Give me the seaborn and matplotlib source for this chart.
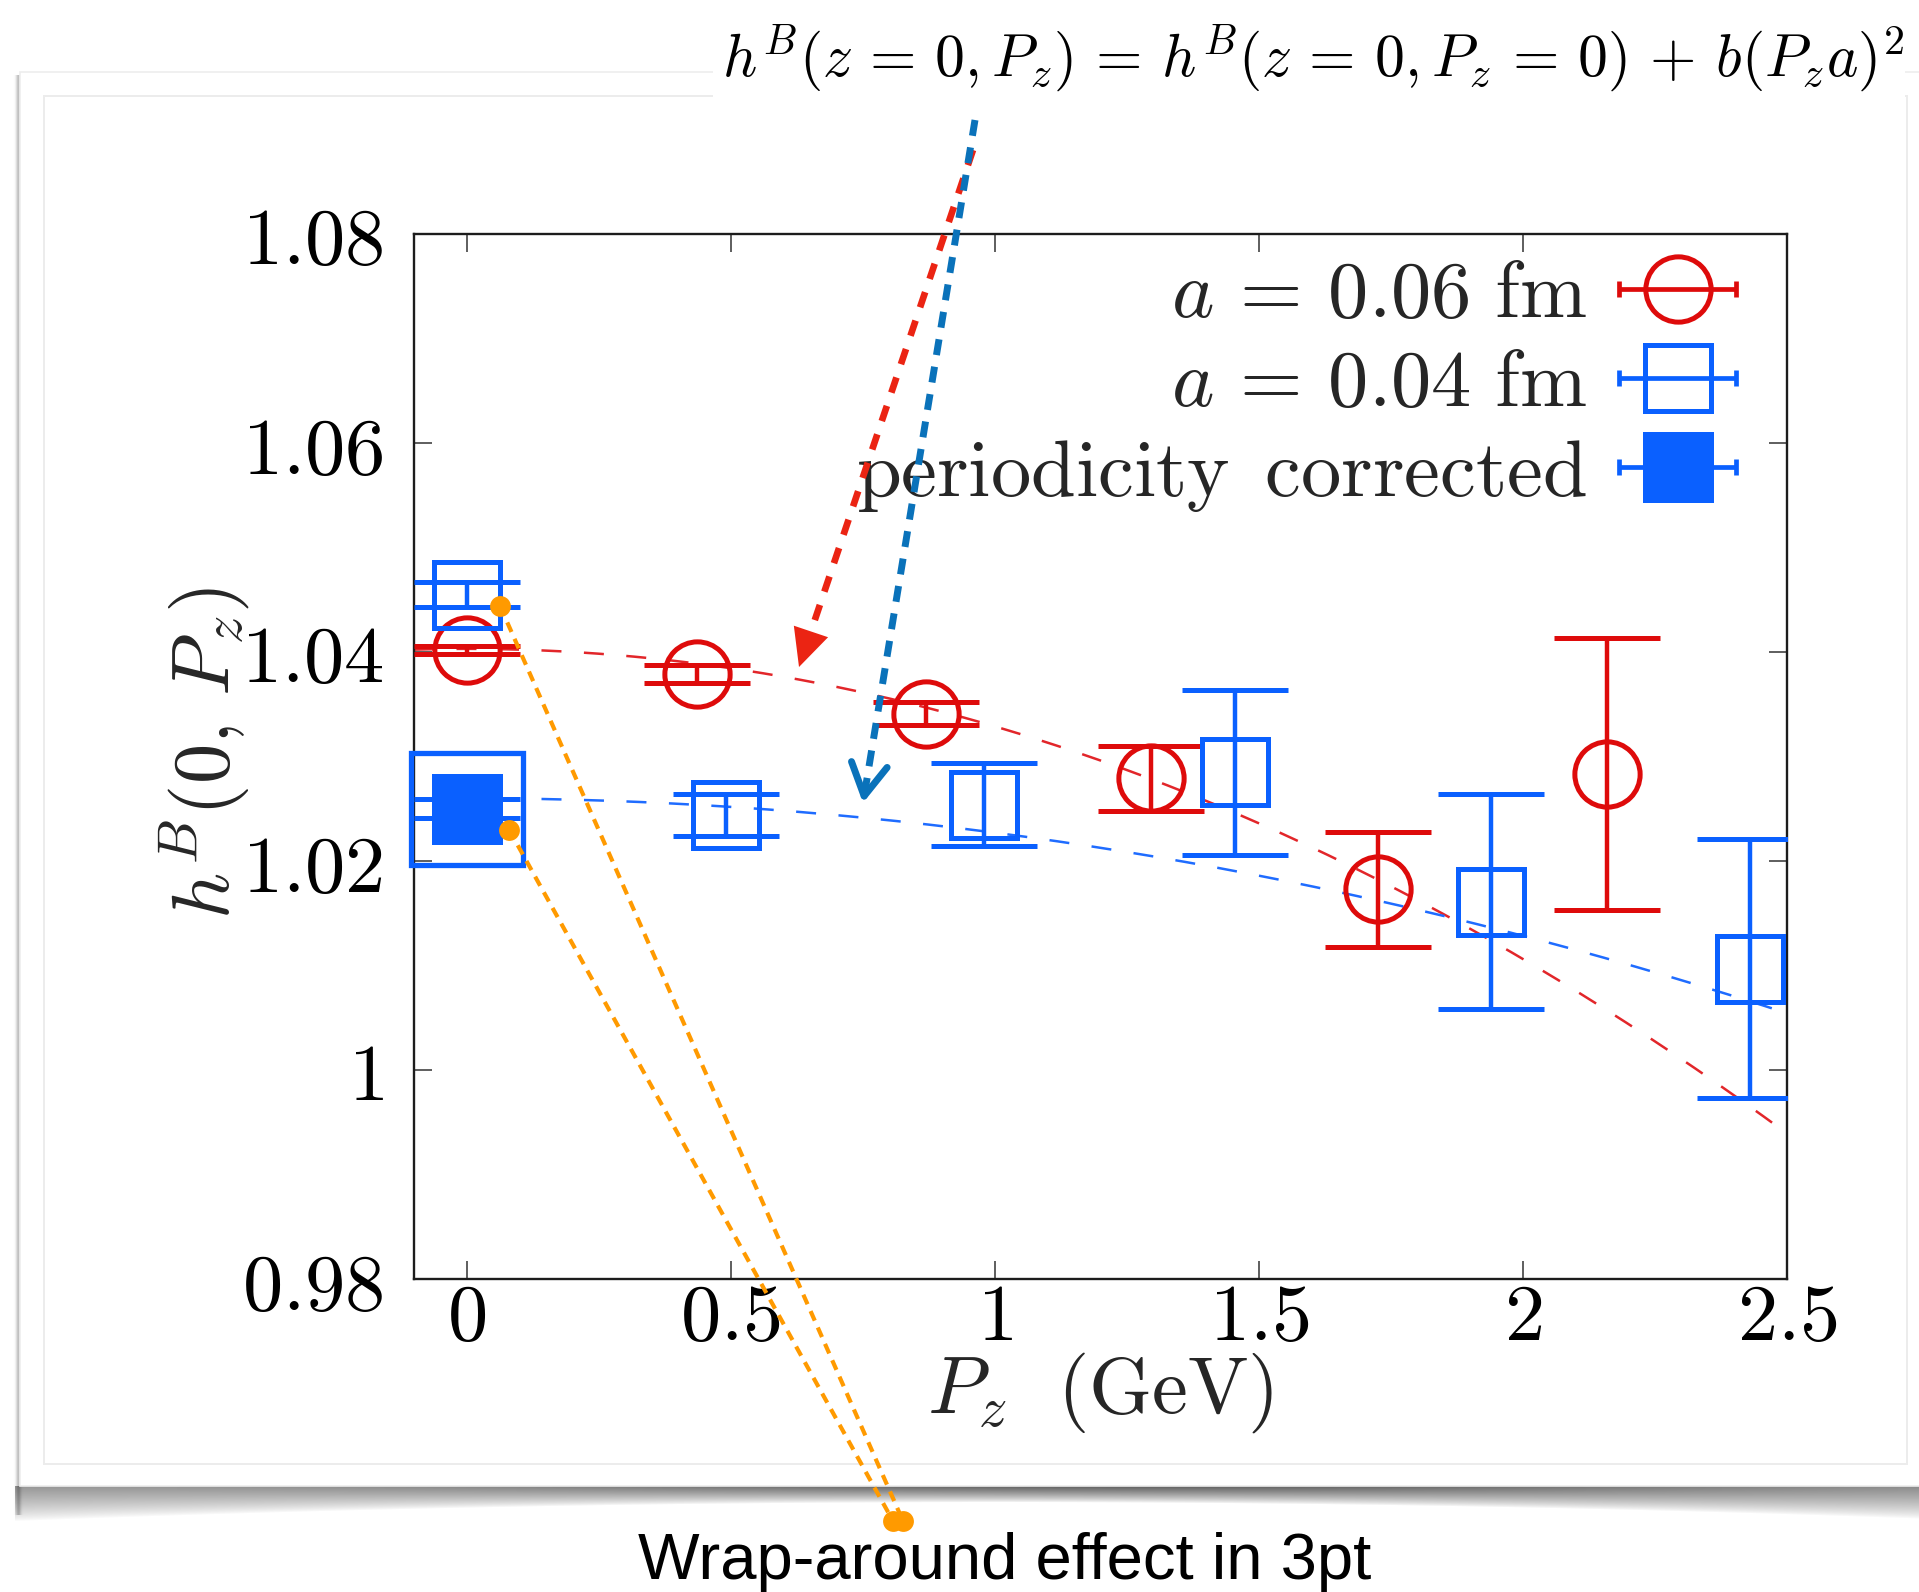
import numpy as np
import matplotlib
matplotlib.use("Agg")
import matplotlib.pyplot as plt
import seaborn as sns
from matplotlib.lines import Line2D
from matplotlib.patches import Rectangle, FancyArrowPatch
from matplotlib.legend_handler import HandlerBase

# ---- data: h^B(z=0, P_z) at two lattice spacings ----
pz_a06 = [0.0, 0.435, 0.87, 1.295, 1.725, 2.16]
h_a06 = [1.0402, 1.0379, 1.0341, 1.0279, 1.0173, 1.0283]
err_a06 = [0.0004, 0.0009, 0.0011, 0.0031, 0.0055, 0.0130]

pz_a04 = [0.0, 0.49, 0.98, 1.455, 1.94, 2.43]
h_a04 = [1.0455, 1.0244, 1.0254, 1.0285, 1.0161, 1.0097]
err_a04 = [0.0012, 0.0020, 0.0040, 0.0079, 0.0103, 0.0124]

pz_corr = [0.0]
h_corr = [1.0250]
err_corr = [0.0009]

# quadratic fits h0 + c * P_z^2
fit06_h0, fit06_c = 1.0403, -0.00742
fit04_h0, fit04_c = 1.0260, -0.00329

legend_labels = [r"$a\,=\,0.06\ \mathrm{fm}$", r"$a\,=\,0.04\ \mathrm{fm}$",
                 r"$\mathrm{periodicity\ \,corrected}$"]
xtick_vals = [0, 0.5, 1, 1.5, 2, 2.5]
xtick_labels = ["0", "0.5", "1", "1.5", "2", "2.5"]
ytick_vals = [0.98, 1.0, 1.02, 1.04, 1.06, 1.08]
ytick_labels = ["0.98", "1", "1.02", "1.04", "1.06", "1.08"]

# annotation anchors: wrap-around points (data coords)
wrap_pz = [0.063, 0.080]
wrap_h = [1.0444, 1.0230]

equation = (r"$h^B(z\,=\,0, P_z)\,=\,h^B(z\,=\,0, P_z\,=\,0)\,+\,b(P_z a)^2$")
wrap_note = "Wrap-around effect in 3pt"

RED = "#DE0B0B"
BLUE = "#0A60FF"
RED_FIT = "#E2262A"
BLUE_FIT = "#1F6CFF"
ORANGE = "#FF9A00"
ARROW_RED = "#EB2413"
ARROW_BLUE = "#0A72BA"

sns.set_theme(style="ticks")
plt.rcParams["mathtext.fontset"] = "cm"
plt.rcParams["font.family"] = ["DejaVu Serif"]
plt.rcParams["axes.unicode_minus"] = False

W, H = 1919, 1592
fig = plt.figure(figsize=(W / 100, H / 100), dpi=100)
fig.patch.set_facecolor("white")

# ---- background card with drop shadow (pixel coordinates) ----
bg = fig.add_axes([0, 0, 1, 1], zorder=0)
bg.set_xlim(0, W)
bg.set_ylim(H, 0)
bg.axis("off")

# bottom shadow, slightly curled at the corners
ys = np.arange(1480, 1535)
xs = np.arange(0, W)
X, Y = np.meshgrid(xs, ys)
thick = 16 + 18 * ((X - 1000) / 960.0) ** 2
amax = 0.40 + 0.22 * np.exp(-((X - 1150) / 650.0) ** 2)
rel = (Y - 1486) / thick
alpha = np.where(rel < 0, 0, np.clip(1 - rel, 0, 1) ** 0.8) * amax
alpha[X < 15] = 0
img = np.zeros(X.shape + (4,))
img[..., 3] = alpha
bg.imshow(img, extent=(0, W, ys[-1] + 1, ys[0]), aspect="auto", interpolation="bilinear", zorder=1)

# left edge shade
lx = np.arange(10, 26)
ly = np.arange(75, 1515)
LX, LY = np.meshgrid(lx, ly)
la = 0.25 * np.exp(-((LX - 18) / 2.5) ** 2)
limg = np.zeros(LX.shape + (4,))
limg[..., 3] = la
bg.imshow(limg, extent=(10, 26, 1515, 75), aspect="auto", interpolation="bilinear", zorder=1)

bg.add_patch(Rectangle((20, 72), W, 1486 - 72, fc="white", ec="#ededed", lw=1.2, zorder=2))
bg.add_patch(Rectangle((44, 96), 1907 - 44, 1464 - 96, fc="none", ec="#ececec", lw=1.4, zorder=3))
bg.add_patch(Rectangle((713, -5), 1905 - 713, 104, fc="white", ec="none", zorder=4))

# ---- main axes ----
ax = fig.add_axes([414 / W, 1 - 1279 / H, (1787 - 414) / W, (1279 - 234) / H], zorder=2)
ax.set_facecolor("white")

fit_pz = np.linspace(-0.1, 2.5, 300)
sns.lineplot(x=fit_pz, y=fit06_h0 + fit06_c * fit_pz ** 2, ax=ax, color=RED_FIT, lw=1.8, zorder=1)
ax.lines[-1].set_dashes((8, 9))
sns.lineplot(x=fit_pz, y=fit04_h0 + fit04_c * fit_pz ** 2, ax=ax, color=BLUE_FIT, lw=1.8, zorder=1)
ax.lines[-1].set_dashes((8, 9))

common = dict(ls="none", elinewidth=3.2, capsize=38, capthick=3.9, mew=3.6, zorder=3)
ax.errorbar(pz_a06, h_a06, yerr=err_a06, marker="o", ms=47, color=RED, mfc="none", mec=RED, **common)
ax.errorbar(pz_a04, h_a04, yerr=err_a04, marker="s", ms=47, color=BLUE, mfc="none", mec=BLUE, **common)
ax.errorbar(pz_corr, h_corr, yerr=err_corr, marker="s", ms=48, color=BLUE, mfc=BLUE, mec=BLUE, **common)
ax.plot(pz_corr, h_corr, ls="none", marker="s", ms=81, mfc="none", mec=BLUE, mew=3.8,
        clip_on=False, zorder=3)

ax.set_xlim(-0.1, 2.5)
ax.set_ylim(0.98, 1.08)
ax.set_xticks(xtick_vals, labels=["$%s$" % s for s in xtick_labels])
ax.set_yticks(ytick_vals, labels=["$%s$" % s for s in ytick_labels])
ax.tick_params(axis="both", direction="in", length=13, width=1.1, color="#333333",
               top=True, right=True, labelsize=58, labelcolor="black")
ax.tick_params(axis="y", pad=22)
ax.tick_params(axis="x", pad=0)
for sp in ax.spines.values():
    sp.set_linewidth(1.7)
    sp.set_color("#1c1c1c")

ax.set_xlabel(r"$P_z\ \ (\mathrm{GeV})$", fontsize=58)
ax.xaxis.set_label_coords(0.5, -0.068)
ax.set_ylabel(r"$h^B(0,\,P_z)$", fontsize=58)
ax.yaxis.set_label_coords(-0.119, 0.503)


class HErrHandler(HandlerBase):
    """Legend key: marker on a horizontal error bar with end caps."""

    def create_artists(self, legend, orig, xdescent, ydescent, width, height, fontsize, trans):
        y = height / 2 - ydescent
        x0, x1 = -xdescent, width - xdescent
        c = orig.get_color()
        bar = Line2D([x0, x1], [y, y], color=c, lw=3.4, solid_capstyle="butt")
        caps = Line2D([x0, x1], [y, y], ls="none", marker="|", ms=12, mew=3.4, color=c)
        mk = Line2D([(x0 + x1) / 2], [y], ls="none", marker=orig.get_marker(),
                    ms=orig.get_markersize(), mfc=orig.get_markerfacecolor(),
                    mec=orig.get_markeredgecolor(), mew=orig.get_markeredgewidth())
        for a in (bar, caps, mk):
            a.set_transform(trans)
        return [bar, caps, mk]


handles = [
    Line2D([], [], color=RED, marker="o", ms=47, mfc="none", mec=RED, mew=3.6),
    Line2D([], [], color=BLUE, marker="s", ms=47, mfc="none", mec=BLUE, mew=3.6),
    Line2D([], [], color=BLUE, marker="s", ms=48, mfc=BLUE, mec=BLUE, mew=3.6),
]
ax.legend(handles, legend_labels, loc="upper right", bbox_to_anchor=(0.963, 0.979),
          markerfirst=False, frameon=False, fontsize=58, handlelength=1.45,
          handletextpad=0.4, labelspacing=0.14, borderpad=0, borderaxespad=0,
          handler_map={Line2D: HErrHandler()})

# ---- overlay annotations (pixel coordinates, origin top-left) ----
ov = fig.add_axes([0, 0, 1, 1], zorder=5)
ov.set_xlim(0, W)
ov.set_ylim(H, 0)
ov.axis("off")

ov.text(722, 76, equation, fontsize=43, ha="left", va="baseline", color="black")


def arrow_shaft(start, tip, back, color, lw, dashes):
    d = np.array(tip, float) - np.array(start, float)
    u = d / np.hypot(*d)
    end = np.array(tip) - back * u
    ov.plot([start[0], end[0]], [start[1], end[1]], color=color, lw=lw,
            dashes=dashes, solid_capstyle="butt", dash_capstyle="butt")
    return u


u = arrow_shaft((973, 150), (799, 667), 30, ARROW_RED, 4.8, (2.4, 2.1))
ov.add_patch(FancyArrowPatch(posA=tuple(np.array((799, 667)) - 40 * u), posB=(799, 667),
                             arrowstyle="-|>,head_length=2.7,head_width=1.3",
                             mutation_scale=10, color=ARROW_RED, lw=0,
                             shrinkA=0, shrinkB=0))

u = arrow_shaft((975, 120), (863, 803), 12, ARROW_BLUE, 5.0, (2.3, 1.7))
ov.add_patch(FancyArrowPatch(posA=tuple(np.array((863, 803)) - 14 * u), posB=(863, 803),
                             arrowstyle="->,head_length=2.3,head_width=1.3",
                             mutation_scale=10, color=ARROW_BLUE, lw=5.0,
                             shrinkA=0, shrinkB=0, capstyle="round", joinstyle="round"))

# wrap-around pointers from the zero-momentum points
ends = [(903, 1521), (893, 1521)]
for px, hy, (ex, ey) in zip(wrap_pz, wrap_h, ends):
    dx, dy = ax.transData.transform((px, hy))
    sx, sy = dx, H - dy
    ov.plot([sx, ex], [sy, ey], color=ORANGE, lw=3.0, dashes=(2.5, 1.8))
    ov.plot([sx, ex], [sy, ey], ls="none", marker="o", ms=15, color=ORANGE, mew=0)

ov.text(1005, 1579, wrap_note, fontsize=47, family="Liberation Sans",
        ha="center", va="baseline", color="black")

fig.savefig("out.png", dpi=100, facecolor="white")
